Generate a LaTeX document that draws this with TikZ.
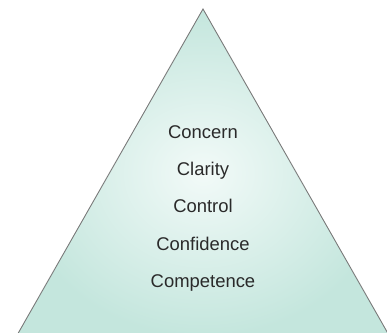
\documentclass[tikz,border=0pt]{standalone}
\usepackage{fontspec}
\setmainfont{Liberation Sans}
\usepackage{tikz}
\usetikzlibrary{positioning}
\definecolor{tealEdge}{HTML}{C4E6DD}
\definecolor{tealCore}{HTML}{F2FAF8}
\definecolor{grayLine}{HTML}{7A7A7A}
\definecolor{grayText}{HTML}{2A2A2A}
\tikzset{
  level/.style={
    inner sep=0pt, text height=14bp, text depth=4bp,
    font=\fontsize{18.5}{22}\selectfont, text=grayText
  },
  pyramid/.style={draw=grayLine, line width=0.9pt, line join=miter}
}

\begin{document}
\begin{tikzpicture}[x=1bp, y=1bp, node distance=19bp]
  \useasboundingbox (0,0) rectangle (387,333);
  % pyramid body with a soft radial fill
  \coordinate (apex) at (203,324);
  \coordinate (baseL) at (16,-4);
  \coordinate (baseR) at (390,-4);
  \shade[inner color=tealCore, outer color=tealEdge]
    (apex) -- (baseR) -- (baseL) -- cycle;
  \draw[pyramid] (baseL) -- (apex) -- (baseR);
  % the five levels
  \node[level, anchor=base] (concern) at (203,195) {Concern};
  \node[level, below=of concern] (clarity) {Clarity};
  \node[level, below=of clarity] (control) {Control};
  \node[level, below=of control] (confidence) {Confidence};
  \node[level, below=of confidence] (competence) {Competence};
\end{tikzpicture}
\end{document}
